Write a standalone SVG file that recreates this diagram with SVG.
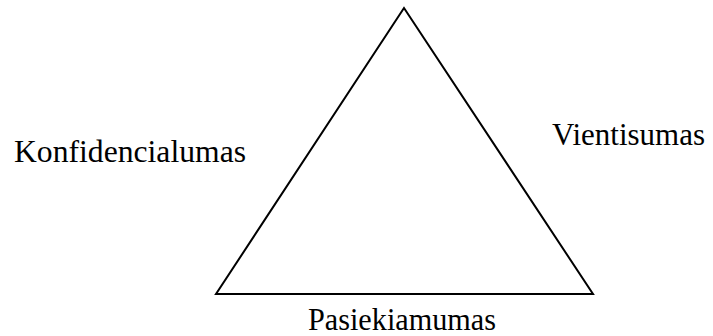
<svg xmlns="http://www.w3.org/2000/svg" width="713" height="336" viewBox="0 0 713 336">
<style>
text{font-family:"Liberation Serif","Times New Roman",serif;font-size:31px;fill:#000}
.edge{fill:none;stroke:#000;stroke-width:2}
</style>
<rect width="713" height="336" fill="#fff"/>
<g id="connectors">
<polygon class="edge" points="404,8 216,294 593,294"/>
</g>
<g id="konfidencialumas"><text x="14" y="162" textLength="232" lengthAdjust="spacingAndGlyphs">Konfidencialumas</text></g>
<g id="vientisumas"><text x="552" y="145" textLength="153" lengthAdjust="spacingAndGlyphs">Vientisumas</text></g>
<g id="pasiekiamumas"><text x="308" y="330" textLength="188" lengthAdjust="spacingAndGlyphs">Pasiekiamumas</text></g>
</svg>
